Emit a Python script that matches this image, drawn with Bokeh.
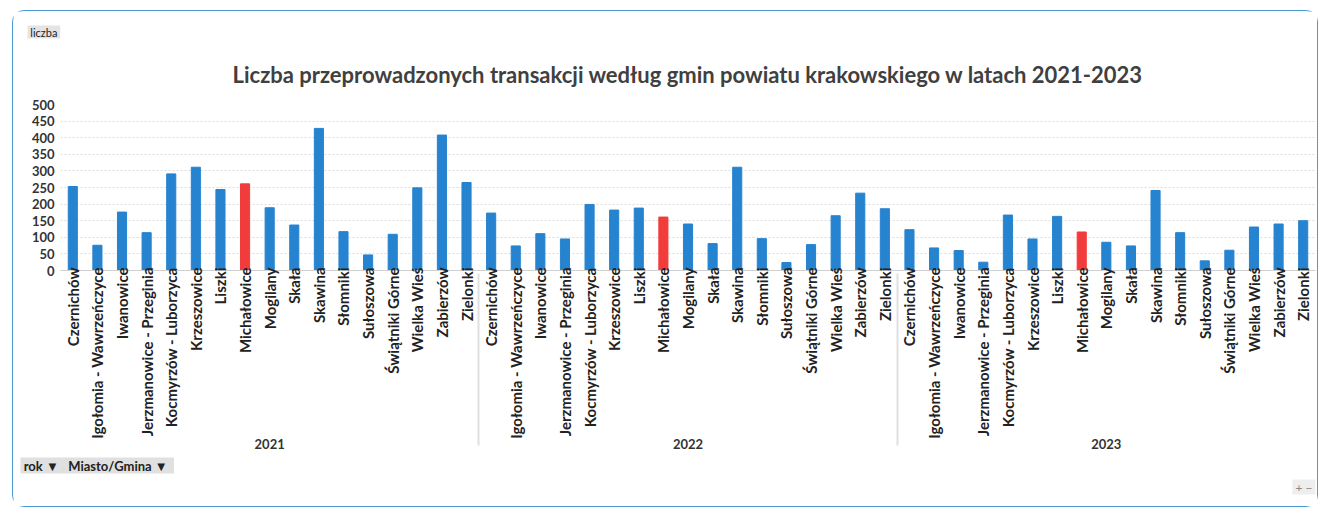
from bokeh.plotting import figure
from bokeh.models import FactorRange, ColumnDataSource, Title, FixedTicker
from bokeh.embed import file_html
from bokeh.resources import INLINE

years = ["2021", "2022", "2023"]
gminy = ["Czernichów", "Igołomia - Wawrzeńczyce", "Iwanowice", "Jerzmanowice - Przeginia",
         "Kocmyrzów - Luborzyca", "Krzeszowice", "Liszki", "Michałowice", "Mogilany", "Skała",
         "Skawina", "Słomniki", "Sułoszowa", "Świątniki Górne", "Wielka Wieś", "Zabierzów", "Zielonki"]
v2021 = [253, 76, 176, 114, 291, 311, 244, 261, 189, 137, 428, 117, 47, 109, 249, 408, 265]
v2022 = [173, 74, 111, 95, 199, 182, 188, 161, 140, 81, 311, 96, 24, 78, 165, 233, 186]
v2023 = [123, 68, 60, 25, 167, 95, 163, 116, 85, 74, 241, 114, 29, 61, 131, 140, 150]
highlight = "Michałowice"
y_ticks = [0, 50, 100, 150, 200, 250, 300, 350, 400, 450, 500]
title_text = "Liczba przeprowadzonych transakcji według gmin powiatu krakowskiego w latach 2021-2023"

BLUE = "#2683cf"
RED = "#f23c3c"
FONT = "Lato"
NB = "\u00a0"

factors = [(y, g) for y in years for g in gminy]
counts = v2021 + v2022 + v2023
colors = [RED if g == highlight else BLUE for y in years for g in gminy]
src = ColumnDataSource(dict(x=factors, counts=counts, color=colors))

p = figure(x_range=FactorRange(*factors, factor_padding=0, group_padding=0, range_padding=0),
           y_range=(0, 500), width=1306, height=497, output_backend="svg", toolbar_location=None,
           min_border_left=47, min_border_right=4, min_border_top=93, min_border_bottom=238,
           title=NB + "liczba" + NB)
p.margin = (10, 6, 4, 12)
p.styles = {"border": "1.5px solid #4a9ad6", "border-radius": "12px", "box-sizing": "border-box"}

p.vbar(x="x", top="counts", width=0.37, color="color", source=src)

# small "liczba" field button (outermost title)
p.title.align = "left"
p.title.offset = -33
p.title.text_font = FONT
p.title.text_font_style = "normal"
p.title.text_font_size = "11px"
p.title.text_color = "#222222"
p.title.background_fill_color = "#e4e4e4"
p.title.standoff = 6

# main chart title (closest to the frame)
p.add_layout(Title(text=title_text, align="center", text_font=FONT, text_font_style="bold",
                   text_font_size="22px", text_color="#404040", standoff=34), "above")

p.add_layout(Title(text=NB + "rok ▼" + NB * 3 + "Miasto/Gmina ▼" + NB * 2, align="left",
                   text_font=FONT, text_font_style="bold", text_font_size="13px",
                   text_color="#222222", background_fill_color="#e0e0e0", offset=-40,
                   standoff=8), "below")
p.add_layout(Title(text=NB + "+ −" + NB, align="right", text_font=FONT, text_font_style="normal",
                   text_font_size="12px", text_color="#888888", background_fill_color="#eeeeee",
                   standoff=0), "below")

p.outline_line_color = None
p.background_fill_color = "white"
p.border_fill_color = "white"
p.xgrid.grid_line_color = None
p.ygrid.grid_line_color = "#dcdcdc"
p.ygrid.grid_line_dash = "2 2"
p.yaxis.ticker = FixedTicker(ticks=y_ticks)
p.yaxis.axis_line_color = None
p.yaxis.major_tick_line_color = None
p.yaxis.minor_tick_line_color = None
p.yaxis.major_label_text_font = FONT
p.yaxis.major_label_text_font_style = "bold"
p.yaxis.major_label_text_font_size = "13px"
p.yaxis.major_label_text_color = "#333333"
p.yaxis.major_label_standoff = 0

p.xaxis.axis_line_color = "#d0d0d0"
p.xaxis.major_tick_line_color = None
p.xaxis.major_tick_out = 0
p.xaxis.major_tick_in = 0
p.xaxis.major_label_orientation = 1.5707963
p.xaxis.major_label_standoff = -3
p.xaxis.major_label_text_font = FONT
p.xaxis.major_label_text_font_style = "bold"
p.xaxis.major_label_text_font_size = "15px"
p.xaxis.major_label_text_color = "#222222"
p.xaxis.group_label_orientation = "horizontal"
p.xaxis.group_text_font = FONT
p.xaxis.group_text_font_style = "bold"
p.xaxis.group_text_font_size = "13px"
p.xaxis.group_text_line_height = 3.0
p.xaxis.group_text_color = "#333333"
p.xaxis.separator_line_color = "#e0e0e0"

open("out.html", "w").write(file_html(p, INLINE))
